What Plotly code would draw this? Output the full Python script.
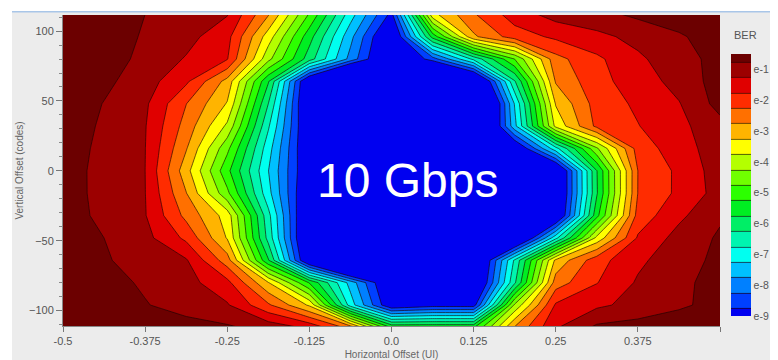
import plotly.graph_objects as go

# Horizontal offsets (UI) of the grid columns
x_ui = [-0.5, -0.4375, -0.375, -0.3125, -0.25, -0.1875, -0.125, -0.0625, 0.0,
        0.0625, 0.125, 0.1875, 0.25, 0.3125, 0.375, 0.4375, 0.5]
# Vertical offsets (codes) of the grid rows
y_codes = [112, 96, 80, 64, 48, 32, 16, 0, -16, -32, -48, -64, -80, -96, -112]

# log10(BER), one list per row (top row first)
ber_r112 = [-0.35, -0.51, -0.75, -0.99, -1.22, -2.70, -4.80, -7.02, -8.90, -3.40, -2.30, -1.50, -1.05, -0.90, -0.65, -0.50, -0.40]
ber_r96 = [-0.35, -0.51, -0.80, -1.08, -1.58, -3.50, -5.55, -7.60, -9.68, -5.56, -2.84, -2.00, -1.65, -1.38, -1.10, -0.81, -0.51]
ber_r80 = [-0.40, -0.50, -0.89, -1.29, -1.72, -4.10, -6.01, -7.92, -9.84, -8.49, -6.62, -4.74, -2.42, -1.85, -1.34, -0.95, -0.58]
ber_r64 = [-0.35, -0.63, -1.03, -1.66, -2.93, -5.70, -9.61, -12, -12, -12, -10.37, -6.30, -2.70, -1.91, -1.51, -1.07, -0.53]
ber_r48 = [-0.38, -0.77, -1.16, -2.24, -3.29, -6.25, -9.67, -12, -12, -12, -11.52, -7.21, -3.21, -2.04, -1.66, -1.28, -0.57]
ber_r32 = [-0.45, -0.83, -1.22, -2.45, -3.85, -6.68, -9.51, -12, -12, -12, -11.18, -7.40, -3.61, -2.13, -1.77, -1.38, -0.92]
ber_r16 = [-0.51, -0.87, -1.24, -2.71, -4.62, -7.04, -9.46, -12, -12, -12, -12, -9.53, -6.93, -4.33, -2.03, -1.47, -0.99]
ber_r0 = [-0.54, -0.90, -1.25, -3.05, -5.11, -7.24, -9.37, -12, -12, -12, -12, -12, -9.87, -5.77, -2.25, -1.64, -1.00]
ber_rm16 = [-0.55, -0.89, -1.24, -2.73, -4.63, -7.08, -9.53, -12, -12, -12, -12, -12, -9.87, -5.80, -2.24, -1.64, -1.05]
ber_rm32 = [-0.52, -0.87, -1.22, -2.39, -3.47, -6.59, -9.75, -12, -12, -12, -12, -12, -9.72, -5.41, -2.05, -1.36, -0.82]
ber_rm48 = [-0.41, -0.75, -1.09, -1.86, -3.29, -6.42, -9.83, -12, -12, -12, -12, -10.23, -6.91, -3.60, -1.69, -1.07, -0.68]
ber_rm64 = [-0.45, -0.70, -0.95, -1.20, -2.52, -5.70, -9.61, -12, -12, -12, -10.14, -6.66, -3.13, -1.95, -1.35, -0.96, -0.63]
ber_rm80 = [-0.35, -0.57, -0.82, -1.07, -1.60, -3.22, -5.29, -7.44, -9.62, -12, -9.92, -6.33, -2.50, -1.77, -1.19, -0.87, -0.56]
ber_rm96 = [-0.35, -0.48, -0.72, -0.96, -1.20, -2.17, -3.33, -7.00, -9.30, -9.00, -9.00, -4.16, -1.68, -1.35, -1.08, -0.83, -0.59]
ber_rm112 = [-0.35, -0.40, -0.50, -0.55, -0.68, -0.93, -1.36, -2.45, -5.30, -5.30, -5.30, -2.70, -1.30, -0.65, -0.55, -0.45, -0.40]

z_rows = [ber_r112, ber_r96, ber_r80, ber_r64, ber_r48, ber_r32, ber_r16, ber_r0,
          ber_rm16, ber_rm32, ber_rm48, ber_rm64, ber_rm80, ber_rm96, ber_rm112]

# Band colours, lowest BER (bottom of colour bar) first
band_colors = ['#0000f0', '#0040ff', '#0080ff', '#00c0ff', '#00fff0', '#00f5b0',
               '#00ee66', '#00ee22', '#2cff00', '#70ff00', '#b4ff00', '#ffff00',
               '#ffb400', '#ff7000', '#ff2c00', '#e00000', '#9c0000', '#6c0000']
cb_tickvals = [-1, -2, -3, -4, -5, -6, -7, -8, -9]
cb_ticktext = ['e-1', 'e-2', 'e-3', 'e-4', 'e-5', 'e-6', 'e-7', 'e-8', 'e-9']
x_tickvals = [-0.5, -0.375, -0.25, -0.125, 0.0, 0.125, 0.25, 0.375, 0.5]
x_ticktext = ['-0.5', '-0.375', '-0.25', '-0.125', '0.0', '0.125', '0.25', '0.375', '']

n = len(band_colors)
scale = []
for k, c in enumerate(band_colors):
    lo = max(0.0, (k - 0.5) / (n - 1))
    hi = min(1.0, (k + 0.5) / (n - 1))
    scale.append([lo, c])
    scale.append([hi, c])

FONT = 'Liberation Sans, Arial, sans-serif'

# figure is drawn inside the page's 8 px body margin
W, H = 770, 352
ML, MR, MT, MB = 55, 58, 7, 34
PW, PH = W - ML - MR, H - MT - MB


def px(fx):
    return (fx - ML) / PW


def py(fy):
    return (H - MB - fy) / PH


fig = go.Figure(go.Contour(
    x=x_ui, y=y_codes, z=z_rows,
    autocontour=False,
    contours=dict(start=-8.75, end=-0.75, size=0.5, coloring='fill'),
    colorscale=scale,
    line=dict(color='rgba(25,0,0,0.8)', width=0.8, smoothing=0),
    hoverinfo='skip',
    colorbar=dict(
        x=px(723), xanchor='left', xpad=0,
        y=py(308), yanchor='bottom', ypad=0,
        len=(308 - 46) / PH, lenmode='fraction', thickness=20,
        outlinewidth=0, ticks='',
        tickvals=cb_tickvals, ticktext=cb_ticktext,
        tickfont=dict(family=FONT, size=10.5, color='#555'),
    ),
))

fig.add_annotation(x=0.025, y=-7, text='10 Gbps', showarrow=False,
                   font=dict(family=FONT, size=48, color='white'),
                   xanchor='center', yanchor='middle')
fig.add_annotation(xref='paper', yref='paper', x=px(724), y=py(27), text='BER',
                   showarrow=False, xanchor='left', yanchor='middle',
                   font=dict(family=FONT, size=11, color='#555'))

# window frame: white strips at top and left, thin blue line at top
fig.add_shape(type='rect', xref='paper', yref='paper', x0=px(-2), x1=px(W + 2),
              y0=py(3), y1=py(-4), fillcolor='white', line_width=0, layer='below')
fig.add_shape(type='rect', xref='paper', yref='paper', x0=px(-2), x1=px(4),
              y0=py(H + 2), y1=py(-4), fillcolor='white', line_width=0, layer='below')
fig.add_shape(type='line', xref='paper', yref='paper', x0=px(4), x1=px(W + 2),
              y0=py(3.8), y1=py(3.8), line=dict(color='#a9c6e8', width=1.5))

fig.update_layout(
    width=W, height=H,
    margin=dict(l=ML, r=MR, t=MT, b=MB, autoexpand=False),
    paper_bgcolor='#ececec', plot_bgcolor='#ececec',
    font=dict(family=FONT, color='#555'),
    showlegend=False,
    xaxis=dict(range=[-0.5, 0.5], tickvals=x_tickvals, ticktext=x_ticktext,
               ticks='outside', ticklen=5, tickcolor='#777', showgrid=False, zeroline=False,
               showline=True, linecolor='#888', linewidth=1,
               tickfont=dict(family=FONT, size=11, color='#555'),
               title=dict(text='Horizontal Offset (UI)', standoff=8,
                          font=dict(family=FONT, size=10, color='#666'))),
    yaxis=dict(range=[-111, 111.5], tickvals=[-100, -50, 0, 50, 100],
               ticks='outside', ticklen=6, tickcolor='#777', showgrid=False, zeroline=False,
               minor=dict(dtick=10, ticks='outside', ticklen=3, tickcolor='#888'),
               showline=True, linecolor='#888', linewidth=1,
               tickfont=dict(family=FONT, size=11, color='#555'),
               title=dict(text='Vertical Offset (codes)', standoff=3,
                          font=dict(family=FONT, size=10, color='#666'))),
)

fig.write_html('out.html')
